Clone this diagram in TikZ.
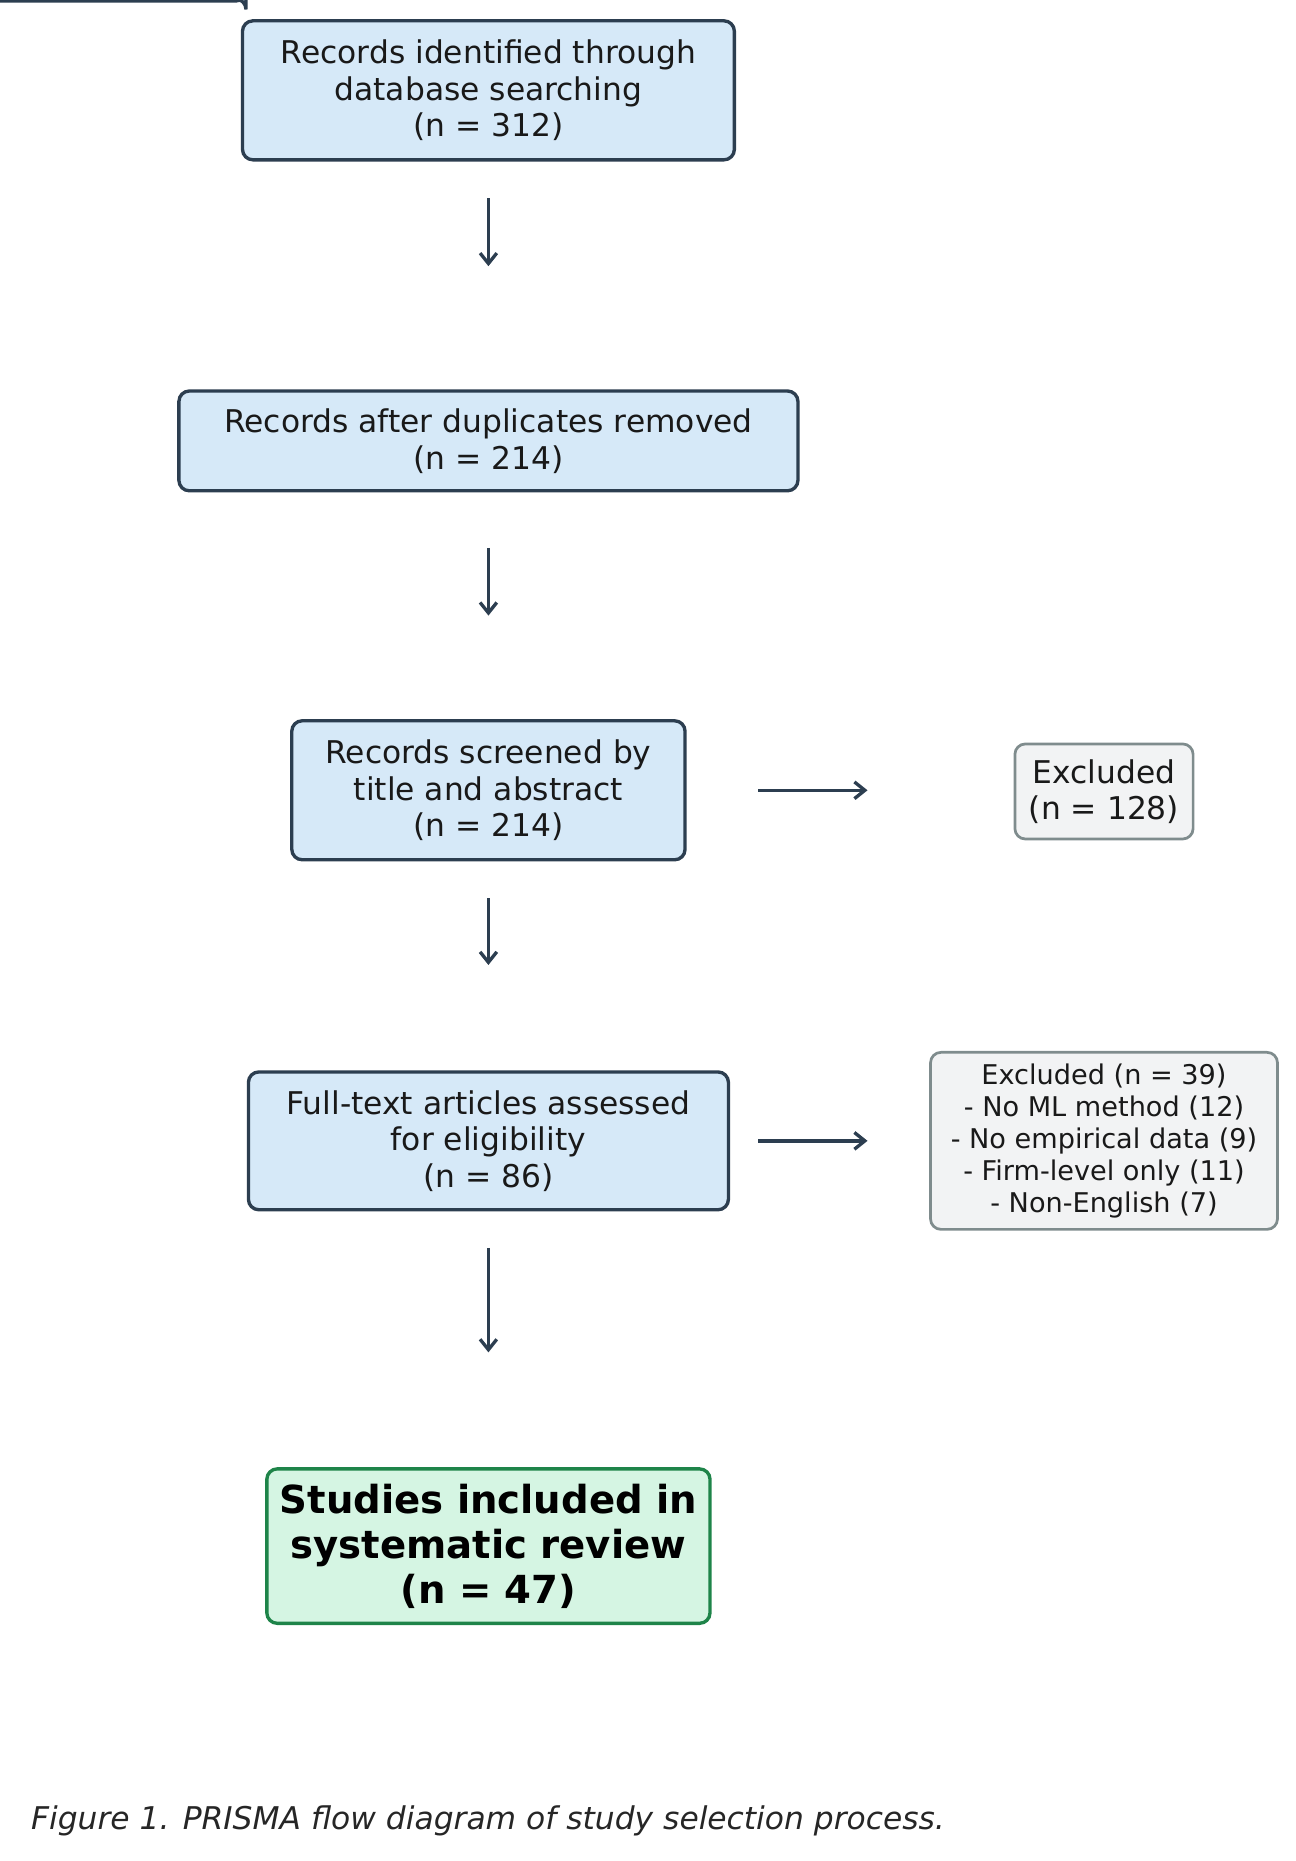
\documentclass[tikz,border=0pt]{standalone}
\usepackage{fontspec}
\setmainfont{DejaVu Sans}
\usetikzlibrary{arrows.meta}
\definecolor{bfill}{HTML}{D6E9F8}
\definecolor{bdraw}{HTML}{2C3E50}
\definecolor{gfill}{HTML}{F2F3F4}
\definecolor{gdraw}{HTML}{7F8C8D}
\definecolor{nfill}{HTML}{D5F5E3}
\definecolor{ndraw}{HTML}{1E8449}
\begin{document}
\begin{tikzpicture}[x=0.02cm,y=-0.02cm,
 box/.style={draw=bdraw,fill=bfill,line width=1.6pt,rounded corners=5pt,align=center,inner sep=0pt,font=\fontsize{15}{17.5}\selectfont,text=black!90},
 ex/.style={draw=gdraw,fill=gfill,line width=1.3pt,rounded corners=5pt,align=center,inner sep=0pt,text=black!90},
 fin/.style={draw=ndraw,fill=nfill,line width=1.6pt,rounded corners=5pt,align=center,inner sep=0pt,font=\fontsize{18.5}{21.5}\selectfont\bfseries},
 arr/.style={draw=bdraw,line width=1.6pt,-{Straight Barb[length=5pt,width=8pt]}}]
\useasboundingbox (0,0) rectangle (1090,1566);
\node[box,minimum width=414\pgflinewidth/1.6pt*0.02cm] at (0,0) {};
\node[box,minimum width=8.28cm,minimum height=2.34cm] (a) at (411,76) {Records identified through\\database searching\\(n = 312)};
\node[box,minimum width=10.42cm,minimum height=1.68cm] (b) at (411,371) {Records after duplicates removed\\(n = 214)};
\node[box,minimum width=6.62cm,minimum height=2.34cm] (c) at (411,665) {Records screened by\\title and abstract\\(n = 214)};
\node[box,minimum width=8.08cm,minimum height=2.32cm] (d) at (411,960) {Full-text articles assessed\\for eligibility\\(n = 86)};
\node[fin,minimum width=7.46cm,minimum height=2.6cm] (e) at (411,1301) {Studies included in\\systematic review\\(n = 47)};
\node[ex,font=\fontsize{15}{17.5}\selectfont,minimum width=3.0cm,minimum height=1.6cm] (x1) at (929,666) {Excluded\\(n = 128)};
\node[ex,font=\fontsize{13}{15.4}\selectfont,minimum width=5.84cm,minimum height=2.98cm] (x2) at (929,960) {Excluded (n = 39)\\- No ML method (12)\\- No empirical data (9)\\- Firm-level only (11)\\- Non-English (7)};
\coordinate (a1) at (411,167); \coordinate (a2) at (411,224);
\coordinate (b1) at (411,461); \coordinate (b2) at (411,518);
\coordinate (c1) at (411,756); \coordinate (c2) at (411,812);
\coordinate (d1) at (411,1050); \coordinate (d2) at (411,1138);
\coordinate (h1) at (638,665); \coordinate (h2) at (730,665);
\coordinate (k1) at (638,960); \coordinate (k2) at (730,960);
\draw[arr] (a1) -- (a2);
\draw[arr] (b1) -- (b2);
\draw[arr] (c1) -- (c2);
\draw[arr] (d1) -- (d2);
\draw[arr] (h1) -- (h2);
\draw[arr] (k1) -- (k2);
\node[anchor=west,font=\fontsize{15}{18}\selectfont\itshape,text=black!85] (cap) at (20,1532) {Figure 1. PRISMA flow diagram of study selection process.};
\end{tikzpicture}
\end{document}
